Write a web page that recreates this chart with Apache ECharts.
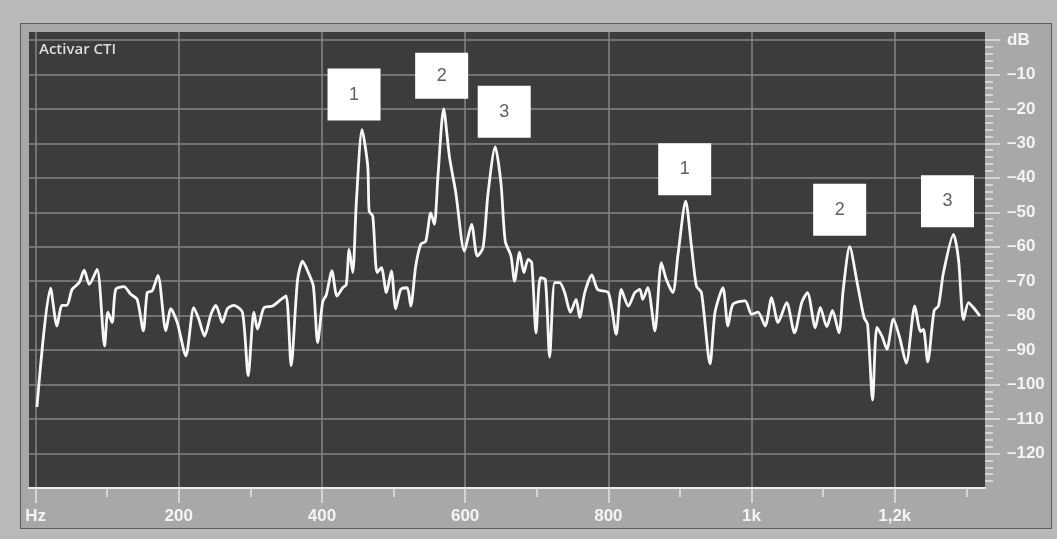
<!DOCTYPE html>
<html>
<head>
<meta charset="utf-8">
<title>Activar CTI</title>
<script src="https://cdn.jsdelivr.net/npm/echarts@6/dist/echarts.min.js"></script>
<style>
  html, body { margin: 0; padding: 0; width: 1057px; height: 539px; overflow: hidden; background: #b9b9b9; }
  #frame { position: absolute; left: 20px; top: 23px; width: 1030px; height: 504px;
           background: #a8a8a8; border: 1.5px solid #5e5e5e; }
  #chart { position: absolute; left: 0; top: 0; width: 1057px; height: 539px; }
</style>
</head>
<body>
<div id="frame"></div>
<div id="chart"></div>
<script>
// Spectrum trace: frequency (Hz) and level (dB)
const freqHz = [
  2, 21, 30, 37, 44, 51, 61, 68, 75, 86, 96.5, 101, 107, 112, 123.5, 133, 142, 150.6, 156, 163,
  171, 182, 189, 198, 210, 221, 228, 236, 245, 252, 261, 268, 277, 289, 297, 305, 310, 319, 331, 343,
  350, 357, 366, 373, 381, 388, 394, 401, 406, 414, 421, 429, 434, 438, 443, 448, 456, 464, 466, 471,
  477, 483, 490, 497, 503, 510, 519, 524, 531, 538, 545, 552, 557, 562, 570, 578, 587, 599, 609, 617,
  625, 632, 642, 650, 656, 664, 669, 676, 682, 688, 693, 699, 705, 712, 718, 725, 732, 739, 747, 755,
  760, 767, 777, 785, 800, 811, 818, 828, 837, 844, 848, 855, 865, 874, 881, 890, 897, 908, 916, 923,
  930, 942, 949, 960, 967, 974, 991, 1000, 1009, 1019, 1028, 1037, 1049, 1060, 1070, 1078, 1089, 1096, 1105, 1113,
  1122, 1128, 1137, 1148, 1157, 1162, 1169, 1175, 1182, 1189, 1198, 1207, 1216, 1228, 1236, 1240, 1246, 1255, 1261, 1268,
  1282, 1289, 1296, 1303, 1310, 1319
];
const levelDb = [
  -106.5, -72, -83, -77, -77, -72.4, -70.4, -66.8, -70.9, -66.6, -88.8, -79, -82, -72.4, -71.6, -73.8, -75.3, -84.4, -73.3, -72.8,
  -68.3, -84.4, -78, -82, -91.7, -77.7, -81, -85.9, -79.6, -77, -82, -78, -77, -79, -97.4, -79, -83.9, -77.7, -77.2, -75.3,
  -74.3, -94.5, -69.5, -64.2, -67.5, -71.4, -87.8, -76, -74, -67, -74.3, -71.9, -71, -60.8, -67.5, -47.3, -26, -36.7, -49.7, -51.1,
  -67.5, -66.1, -73.3, -67, -78, -72.4, -71.9, -77.2, -65.6, -59.3, -58.4, -50.2, -53.5, -39.6, -20, -33.8, -44.4, -61.3, -53.5, -62.7,
  -60.3, -44.4, -31, -41.5, -58.4, -62.7, -70, -61.6, -67.5, -63.7, -64.6, -85, -69, -69.5, -92, -70.4, -70.4, -73.3, -79, -75.3,
  -80.5, -73.3, -68.2, -72.4, -73.3, -85.4, -72.4, -77.2, -73.3, -72.4, -75.3, -71.9, -84.4, -64.6, -69.5, -73.3, -62.7, -46.8, -59.8, -71.4,
  -73.3, -94, -79, -71.9, -83, -76.7, -75.7, -79.6, -79, -83, -74.8, -82, -76.2, -85, -76.2, -73.3, -83.5, -77.6, -83.2, -78.5,
  -85, -72.4, -60, -71, -80.5, -82.5, -104.5, -83.4, -85.9, -89.7, -81, -86.5, -93.8, -77.2, -84.6, -84, -93.4, -78.5, -77.2, -67.5,
  -56.4, -63.7, -81.2, -76.2, -77.7, -80.1
];

// Marked harmonic peaks
const peakHz   = [456, 570, 642, 908, 1137, 1282];
const peakDb   = [-26, -20, -31, -46.8, -60, -56.4];
const peakTags = ['1', '2', '3', '1', '2', '3'];

// Axis ticks and labels
const xTickValues  = [0, 200, 400, 600, 800, 1000, 1200];
const xTickLabels  = ['Hz', '200', '400', '600', '800', '1k', '1,2k'];
const xMinorValues = [100, 300, 500, 700, 900, 1100, 1300];
const yTickValues  = [0, -10, -20, -30, -40, -50, -60, -70, -80, -90, -100, -110, -120];
const yTickLabels  = ['dB', '\u201310', '\u201320', '\u201330', '\u201340', '\u201350', '\u201360',
                      '\u201370', '\u201380', '\u201390', '\u2013100', '\u2013110', '\u2013120'];
const yMinorValues = [];
for (let v = -2; v >= -128; v -= 2) { if (v % 10 !== 0) yMinorValues.push(v); }

// Callout box placement relative to each peak (pixels)
const calloutOffsets = [[-8, -35], [-2, -33], [9, -35], [-1, -32], [-10, -37], [-6, -33]];
const calloutSizes   = [[53, 52], [53, 46], [53, 52], [53, 52], [53, 52], [53, 52]];

const X_MIN = -9.1, X_MAX = 1326, Y_MIN = -130, Y_MAX = 2.3;
const labelFont = { color: '#f4f4f4', fontSize: 17, fontWeight: 'bold', fontFamily: 'Liberation Sans, Arial, sans-serif' };
const tickColor = '#e4e4e4';
const gridLine = { show: true, lineStyle: { color: '#858585', width: 1.5 } };

const trace = freqHz.map((f, i) => [f, levelDb[i]]);
const callouts = peakHz.map((f, i) => ({
  name: peakTags[i],
  value: [f, peakDb[i]],
  symbolOffset: calloutOffsets[i],
  symbolSize: calloutSizes[i]
}));

const chart = echarts.init(document.getElementById('chart'), null, { renderer: 'canvas' });
chart.setOption({
  animation: false,
  backgroundColor: 'transparent',
  title: {
    text: 'Activar CTI', left: 39, top: 42, padding: 0,
    textStyle: { color: '#dcdcdc', fontSize: 15, fontWeight: 600, fontFamily: 'Open Sans, sans-serif' }
  },
  grid: {
    left: 29, right: 72, top: 32, bottom: 51,
    show: true, backgroundColor: '#3c3c3c', borderWidth: 0
  },
  xAxis: [
    {
      type: 'value', min: X_MIN, max: X_MAX, position: 'bottom',
      axisLine: { show: true, onZero: false, lineStyle: { color: '#ececec', width: 2 } },
      axisTick: { show: true, customValues: xTickValues, length: 15, lineStyle: { color: tickColor, width: 1.5 } },
      axisLabel: Object.assign({
        customValues: xTickValues, margin: 20,
        formatter: v => xTickLabels[xTickValues.indexOf(v)]
      }, labelFont),
      splitLine: gridLine
    },
    {
      type: 'value', min: X_MIN, max: X_MAX, position: 'bottom',
      axisLine: { show: false, onZero: false },
      axisTick: { show: true, customValues: xMinorValues, length: 9, lineStyle: { color: tickColor, width: 1.5 } },
      axisLabel: { show: false },
      splitLine: { show: false }
    }
  ],
  yAxis: [
    {
      type: 'value', min: Y_MIN, max: Y_MAX, position: 'right',
      axisLine: { show: false, onZero: false },
      axisTick: { show: true, customValues: yTickValues, length: 15, lineStyle: { color: tickColor, width: 1.5 } },
      axisLabel: Object.assign({
        customValues: yTickValues, margin: 22,
        formatter: v => yTickLabels[yTickValues.indexOf(v)]
      }, labelFont),
      splitLine: gridLine
    },
    {
      type: 'value', min: Y_MIN, max: Y_MAX, position: 'right',
      axisLine: { show: false, onZero: false },
      axisTick: { show: true, customValues: yMinorValues, length: 8, lineStyle: { color: tickColor, width: 1.5 } },
      axisLabel: { show: false },
      splitLine: { show: false }
    }
  ],
  series: [
    {
      type: 'line', name: 'Espectro', data: trace,
      xAxisIndex: 0, yAxisIndex: 0,
      showSymbol: false, smooth: 0.25, z: 3,
      lineStyle: { color: '#f7f7f7', width: 2.8 }
    },
    {
      type: 'scatter', name: 'Armónicos', data: callouts,
      xAxisIndex: 0, yAxisIndex: 0,
      symbol: 'rect', z: 5,
      itemStyle: { color: '#ffffff', opacity: 1 },
      label: {
        show: true, position: 'inside', formatter: '{b}',
        color: '#5e5e5e', fontSize: 18, fontFamily: 'Liberation Sans, Arial, sans-serif'
      }
    }
  ]
});
</script>
</body>
</html>
